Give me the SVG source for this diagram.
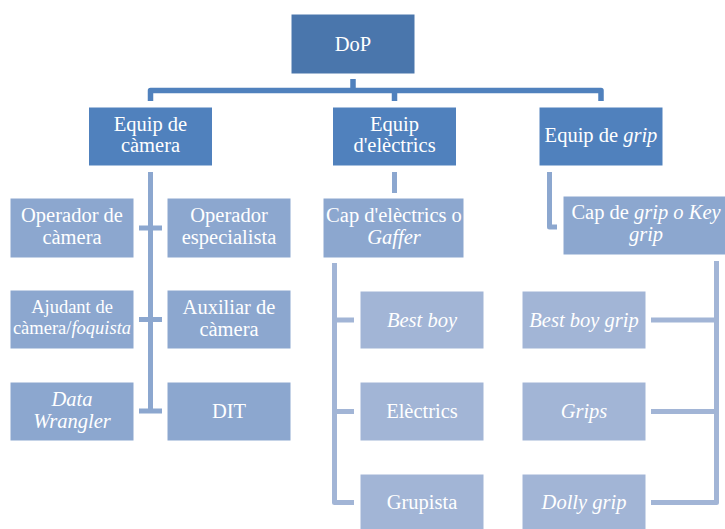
<svg xmlns="http://www.w3.org/2000/svg" width="725" height="529" viewBox="0 0 725 529">
<style>
.b0{fill:#4A76AC;stroke:#ffffff;stroke-width:1}
.b1{fill:#5081BD;stroke:#ffffff;stroke-width:1}
.b2{fill:#8CA7CF;stroke:#ffffff;stroke-width:1}
.b3{fill:#A2B5D6;stroke:#ffffff;stroke-width:1}
text{font-family:"Liberation Serif","Times New Roman",Tinos,"Noto Serif","DejaVu Serif","Nimbus Roman","Nimbus Roman No9 L",FreeSerif,Times,serif;font-size:20.5px;fill:#ffffff;text-anchor:middle}
.sm{font-size:18.5px}
.it{font-style:italic}
.c0{fill:none;stroke:#5081BD;stroke-width:5.5;stroke-linejoin:round}
.c1{fill:none;stroke:#8CA7CF;stroke-width:5;stroke-linejoin:round}
.c2{fill:none;stroke:#A2B5D6;stroke-width:5;stroke-linejoin:round}
</style>
<rect width="725" height="529" fill="#ffffff"/>
<g id="connectors">
<path class="c0" d="M353,79 V90.5 M150.5,101 V90.5 H601 V101 M394.5,90.5 V101"/>
<path class="c1" d="M150.5,172 V411 M139,228 H162 M139,319.5 H162 M139,411 H162"/>
<path class="c1" d="M394.5,172 V193"/>
<path class="c1" d="M549.5,172 V227 H557"/>
<path class="c2" d="M334.5,263 V502.5 H354 M334.5,320 H354 M334.5,411.5 H354"/>
<path class="c2" d="M716.5,261 V502.5 H651 M716.5,320 H651 M716.5,411.5 H651"/>
</g>
<g id="dop"><rect class="b0" x="291" y="14" width="124" height="60"/><text x="353" y="51">DoP</text></g>
<g id="equip-camera"><rect class="b1" x="88.5" y="107" width="124" height="59"/><text x="150.5" y="131">Equip de</text><text x="150.5" y="152">càmera</text></g>
<g id="equip-electrics"><rect class="b1" x="332.5" y="107" width="124" height="59"/><text x="394.5" y="131">Equip</text><text x="394.5" y="152">d'elèctrics</text></g>
<g id="equip-grip"><rect class="b1" x="539" y="107" width="124" height="59"/><text x="601" y="142">Equip de <tspan class="it">grip</tspan></text></g>
<g id="operador-camera"><rect class="b2" x="10" y="198" width="124" height="60"/><text x="72" y="222">Operador de</text><text x="72" y="244">càmera</text></g>
<g id="operador-especialista"><rect class="b2" x="167" y="198" width="124" height="60"/><text x="229" y="222">Operador</text><text x="229" y="244">especialista</text></g>
<g id="ajudant"><rect class="b2" x="10" y="290" width="124" height="59"/><text class="sm" x="72" y="313">Ajudant de</text><text class="sm" x="72" y="334">càmera/<tspan class="it">foquista</tspan></text></g>
<g id="auxiliar"><rect class="b2" x="167" y="290" width="124" height="59"/><text x="229" y="314">Auxiliar de</text><text x="229" y="336">càmera</text></g>
<g id="data-wrangler"><rect class="b2" x="10" y="382" width="124" height="59"/><text class="it" x="72" y="406">Data</text><text class="it" x="72" y="428">Wrangler</text></g>
<g id="dit"><rect class="b2" x="167" y="382" width="124" height="59"/><text x="229" y="418">DIT</text></g>
<g id="cap-electrics"><rect class="b2" x="323" y="198" width="141" height="60"/><text x="394" y="222">Cap d'elèctrics o</text><text class="it" x="394" y="244">Gaffer</text></g>
<g id="best-boy"><rect class="b3" x="360" y="291" width="124" height="58"/><text class="it" x="422" y="327">Best boy</text></g>
<g id="electrics"><rect class="b3" x="360" y="382" width="124" height="59"/><text x="422" y="418">Elèctrics</text></g>
<g id="grupista"><rect class="b3" x="360" y="474" width="124" height="59"/><text x="422" y="509">Grupista</text></g>
<g id="cap-grip"><rect class="b2" x="563" y="196" width="166" height="59"/><text x="646" y="219">Cap de <tspan class="it">grip o Key</tspan></text><text class="it" x="646" y="241">grip</text></g>
<g id="best-boy-grip"><rect class="b3" x="522" y="291" width="124" height="58"/><text class="it" x="584" y="327">Best boy grip</text></g>
<g id="grips"><rect class="b3" x="522" y="382" width="124" height="59"/><text class="it" x="584" y="418">Grips</text></g>
<g id="dolly-grip"><rect class="b3" x="522" y="474" width="124" height="59"/><text class="it" x="584" y="509">Dolly grip</text></g>
</svg>
